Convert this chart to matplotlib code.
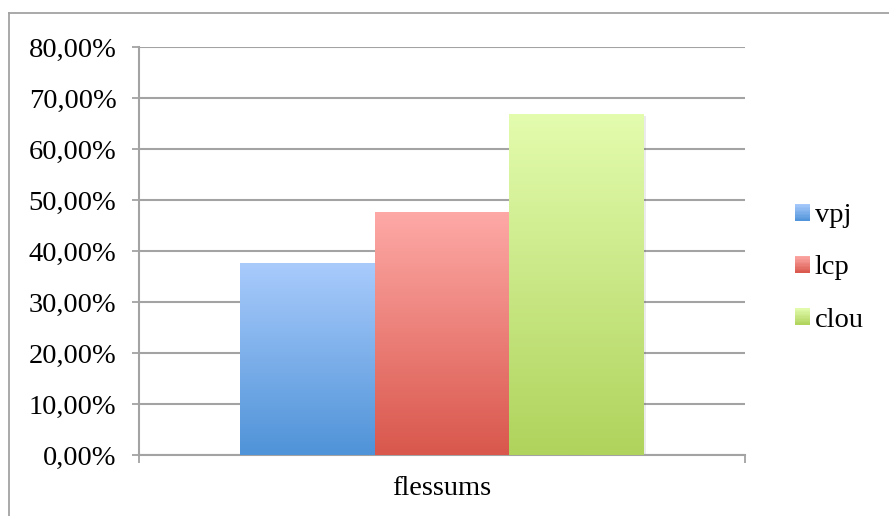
import matplotlib
matplotlib.use("Agg")
import matplotlib.pyplot as plt
import numpy as np
from matplotlib.patches import Rectangle
from matplotlib.legend_handler import HandlerBase
from matplotlib.colors import to_rgb
from matplotlib.lines import Line2D

categories = ["flessums"]
series = ["vpj", "lcp", "clou"]
values = [0.376, 0.476, 0.668]
top_colors = ["#a9cbfc", "#fea9a6", "#e3fcae"]
bottom_colors = ["#4f93d8", "#d9574c", "#afd35c"]
yticks = [0.0, 0.1, 0.2, 0.3, 0.4, 0.5, 0.6, 0.7, 0.8]

plt.rcParams['font.family'] = ['Liberation Serif', 'DejaVu Serif']
FS = 20.5
grid_c = "#a3a3a3"

fig = plt.figure(figsize=(8.89, 5.16), dpi=100)
ax = fig.add_axes([139/889, 1-455/516, (745-139)/889, (455-47)/516])

# outer border
fig.add_artist(Line2D([9/889, 9/889], [0, 1-13/516], transform=fig.transFigure, color=grid_c, lw=1.3))
fig.add_artist(Line2D([9/889, 1], [1-13/516, 1-13/516], transform=fig.transFigure, color=grid_c, lw=1.3))

width = 0.2225
offsets = [-width, 0.0, width]
bars = []
for i, (s, v) in enumerate(zip(series, values)):
    b = ax.bar(0 + offsets[i], v, width=width, color="none", edgecolor="none", zorder=3)
    bars.append(b[0])

def grad(c_top, c_bot, n=256):
    t = np.linspace(0, 1, n)[:, None]
    ct = np.array(to_rgb(c_top)); cb = np.array(to_rgb(c_bot))
    arr = ct[None, :] * (1 - t) + cb[None, :] * t
    return arr[:, None, :]

for i, r in enumerate(bars):
    x0, w, h = r.get_x(), r.get_width(), r.get_height()
    # subtle shadow
    ax.add_patch(Rectangle((x0 + 0.003, -0.004), w, h, facecolor="#000000", alpha=0.08,
                           edgecolor="none", zorder=2.5))
    ax.imshow(grad(top_colors[i], bottom_colors[i]), extent=[x0, x0 + w, 0, h],
              aspect="auto", zorder=3, interpolation="bilinear")

ax.set_xlim(-0.5, 0.5)
ax.set_ylim(0, 0.8)

ax.set_yticks(yticks)
ax.set_yticklabels([("%.2f%%" % (v * 100)).replace(".", ",") for v in yticks], fontsize=FS)
ax.yaxis.grid(True, color=grid_c, lw=1.5, zorder=1)
ax.set_axisbelow(True)
ax.tick_params(axis="y", length=5.2, width=1.3, color=grid_c, pad=11)

ax.set_xticks([0])
ax.set_xticklabels(categories, fontsize=FS)
ax.set_xticks([-0.5, 0.5], minor=True)
ax.tick_params(axis="x", which="major", length=0, pad=15)
ax.tick_params(axis="x", which="minor", length=5.5, width=1.3, color=grid_c, direction="out")

for side in ["top", "right"]:
    ax.spines[side].set_visible(False)
for side in ["left", "bottom"]:
    ax.spines[side].set_color(grid_c)
    ax.spines[side].set_linewidth(1.5)

class GradHandler(HandlerBase):
    def __init__(self, ctop, cbot):
        super().__init__()
        self.ctop, self.cbot = ctop, cbot
    def create_artists(self, legend, orig_handle, xdescent, ydescent, width, height, fontsize, trans):
        n = 12
        arts = []
        ct = np.array(to_rgb(self.ctop)); cb = np.array(to_rgb(self.cbot))
        for k in range(n):
            t = (k + 0.5) / n
            c = ct * t + cb * (1 - t)
            arts.append(Rectangle((-xdescent, -ydescent + height * k / n), width, height / n + 0.3,
                                  facecolor=c, edgecolor="none", transform=trans))
        return arts

handles = [Rectangle((0, 0), 1, 1) for _ in series]
hmap = {h: GradHandler(top_colors[i], bottom_colors[i]) for i, h in enumerate(handles)}
leg = fig.legend(handles, series, handler_map=hmap, loc="center left",
                 bbox_to_anchor=(795/889, 1 - 268/516), frameon=False, fontsize=FS,
                 handlelength=0.52, handleheight=0.52, handletextpad=0.18, labelspacing=0.95,
                 borderpad=0, borderaxespad=0)

fig.savefig("out.png", dpi=100)
